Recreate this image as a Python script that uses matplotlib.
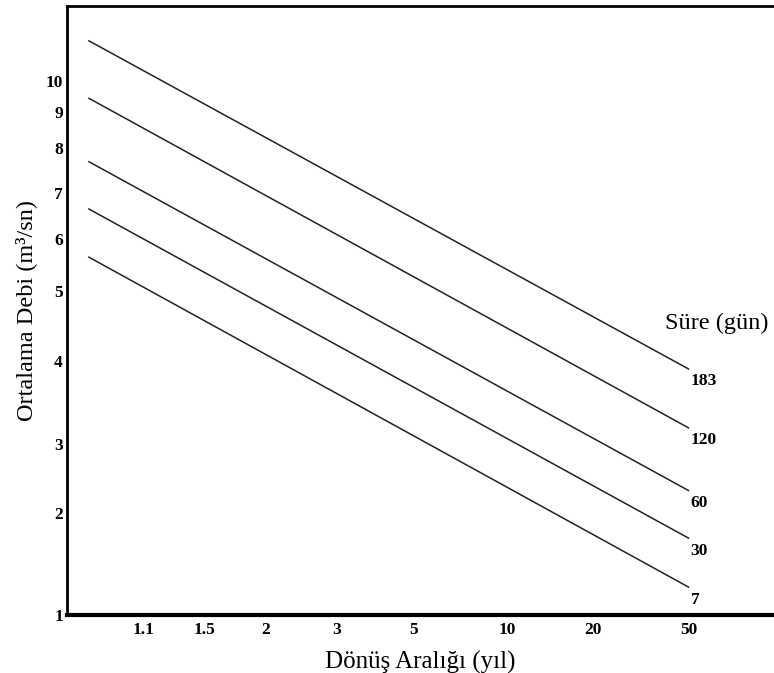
import numpy as np
import matplotlib
matplotlib.use("Agg")
import matplotlib.pyplot as plt

# return period ticks (years) and discharge ticks (m3/s)
period_ticks = [1.1, 1.5, 2, 3, 5, 10, 20, 50]
flow_ticks = [1, 2, 3, 4, 5, 6, 7, 8, 9, 10]

# duration curves (days): flow at the start and end of each line
durations = ["183", "120", "60", "30", "7"]
period_start = [1.0, 1.0, 1.0, 1.0, 1.0]
period_end = [50, 50, 50, 50, 50]
flow_start = [11.3, 9.45, 7.7, 6.66, 5.66]
flow_end = [3.9, 3.19, 2.32, 1.75, 1.27]

# where the chart paper puts its graduations (axes fraction)
x_anchor_vals = [1.0] + period_ticks
x_anchor_pos = [0.03, 0.1075, 0.1938, 0.2815, 0.3819, 0.4908, 0.6223, 0.744, 0.88]
y_anchor_pos = [0.0, 0.1675, 0.2808, 0.417, 0.532, 0.617, 0.693, 0.767, 0.826, 0.877]


def paper_scale(vals, pos):
  vals = np.asarray(vals, float)
  pos = np.asarray(pos, float)

  def extrap(v, a, b):
    v = np.asarray(v, float)
    out = np.interp(v, a, b)
    lo = v < a[0]
    hi = v > a[-1]
    out = np.where(lo, b[0] + (v - a[0]) * (b[1] - b[0]) / (a[1] - a[0]), out)
    out = np.where(hi, b[-1] + (v - a[-1]) * (b[-1] - b[-2]) / (a[-1] - a[-2]), out)
    return out

  return (lambda v: extrap(v, vals, pos)), (lambda p: extrap(p, pos, vals))


plt.rcParams['font.family'] = ['Liberation Serif', 'DejaVu Serif']

fig = plt.figure(figsize=(7.74, 6.73), dpi=100)
ax = fig.add_axes([0.0866, 0.0862, 0.9134, 0.905])

xf, xi = paper_scale(x_anchor_vals, x_anchor_pos)
yf, yi = paper_scale(flow_ticks, y_anchor_pos)
ax.set_xscale('function', functions=(xf, xi))
ax.set_yscale('function', functions=(yf, yi))
ax.set_xlim(float(xi(0.0)), float(xi(1.0)))
ax.set_ylim(float(yi(0.0)), float(yi(1.0)))

for d, x0, x1, y0, y1 in zip(durations, period_start, period_end, flow_start, flow_end):
  ax.plot([x0, x1], [y0, y1], '-', color='#222222', lw=1.1, solid_capstyle='butt')
  ax.annotate(d, (x1, y1), xytext=(1, -3), textcoords='offset points',
              ha='left', va='top', fontsize=12.5, fontweight='bold')

ax.text(0.846, 0.478, 'Süre (gün)', transform=ax.transAxes, fontsize=17.5,
        ha='left', va='center')

ax.set_xticks(period_ticks)
ax.set_xticklabels([str(t) for t in period_ticks])
ax.set_yticks(flow_ticks)
ax.set_yticklabels([str(t) for t in flow_ticks])
ax.minorticks_off()
ax.tick_params(axis='x', length=0, labelsize=12.5, pad=5)
ax.tick_params(axis='y', length=0, labelsize=12.5, pad=3)
for lab in ax.get_xticklabels() + ax.get_yticklabels():
  lab.set_fontweight('bold')

ax.set_xlabel('Dönüş Aralığı (yıl)', fontsize=18, labelpad=9)
ax.set_ylabel('Ortalama Debi (m³/sn)', fontsize=17.5, labelpad=6)

ax.spines['right'].set_visible(False)
ax.spines['left'].set_linewidth(2)
ax.spines['top'].set_linewidth(2)
ax.spines['bottom'].set_linewidth(3)

fig.savefig('out.png', dpi=100)
